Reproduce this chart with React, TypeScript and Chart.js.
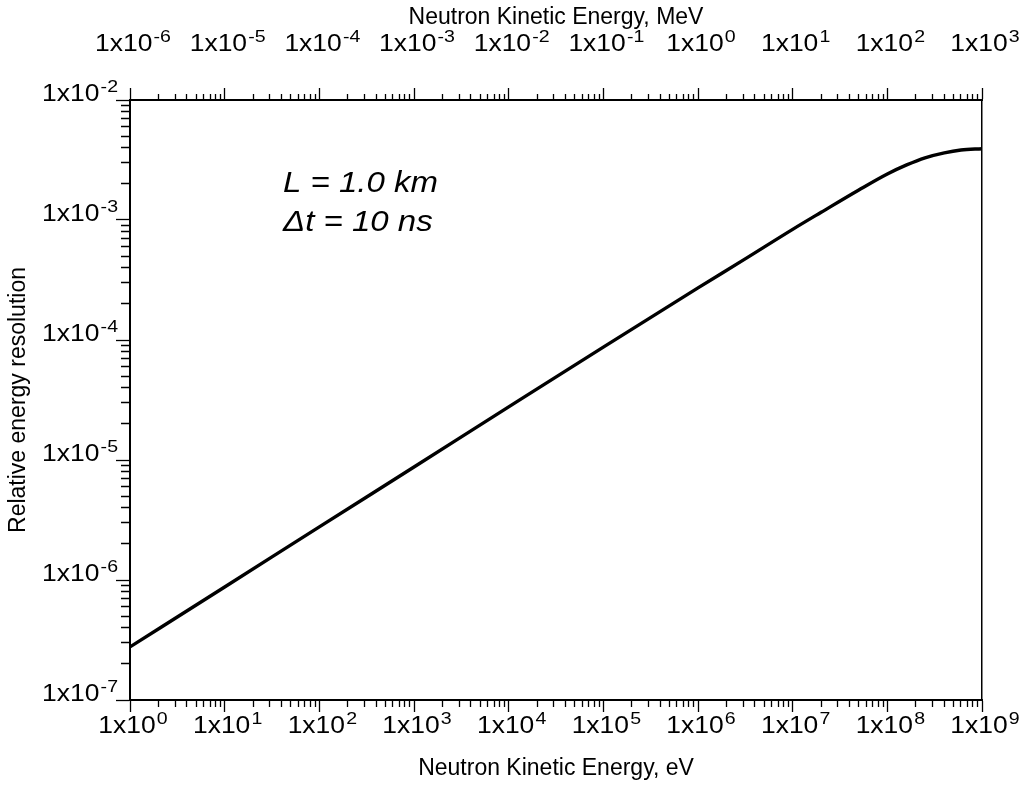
import React, { useEffect, useRef } from 'react';
import { Chart, registerables } from 'chart.js';

Chart.register(...registerables);

// ---- data ----
const energyEv = [1, 10, 100, 1e3, 1e4, 1e5, 1e6, 3e6, 1e7, 2e7, 5e7, 1e8, 1.6e8, 2.5e8, 4e8, 6e8, 1e9];
const resolution = [
  2.77e-7, 8.75e-7, 2.77e-6, 8.75e-6, 2.77e-5, 8.73e-5, 2.72e-4, 4.63e-4, 8.36e-4,
  1.16e-3, 1.78e-3, 2.42e-3, 2.88e-3, 3.3e-3, 3.63e-3, 3.83e-3, 3.93e-3,
];

const bottomTickValues = [1, 10, 100, 1e3, 1e4, 1e5, 1e6, 1e7, 1e8, 1e9];
const bottomTickLabels = ['1x10^0', '1x10^1', '1x10^2', '1x10^3', '1x10^4', '1x10^5', '1x10^6', '1x10^7', '1x10^8', '1x10^9'];
const topTickValues = [1e-6, 1e-5, 1e-4, 1e-3, 1e-2, 1e-1, 1, 10, 100, 1000];
const topTickLabels = ['1x10^-6', '1x10^-5', '1x10^-4', '1x10^-3', '1x10^-2', '1x10^-1', '1x10^0', '1x10^1', '1x10^2', '1x10^3'];
const leftTickValues = [1e-7, 1e-6, 1e-5, 1e-4, 1e-3, 1e-2];
const leftTickLabels = ['1x10^-7', '1x10^-6', '1x10^-5', '1x10^-4', '1x10^-3', '1x10^-2'];

const bottomTitle = 'Neutron Kinetic Energy, eV';
const topTitle = 'Neutron Kinetic Energy, MeV';
const leftTitle = 'Relative energy resolution';
const noteLines = ['L = 1.0 km', '\u0394t = 10 ns'];

const FONT = '"Liberation Sans", Arial, Helvetica, sans-serif';
const TICK_FONT = 23;
const EXP_FONT = 17;
const TICK_SX = 1.15;

function isMajorValue(v: number) {
  const l = Math.log10(v);
  return Math.abs(l - Math.round(l)) < 1e-6;
}

function withMinors(majors: number[]) {
  const out: { value: number; major: boolean }[] = [];
  majors.forEach((v, i) => {
    out.push({ value: v, major: true });
    if (i < majors.length - 1) {
      for (let k = 2; k <= 9; k++) out.push({ value: v * k, major: false });
    }
  });
  return out;
}

function dashFor(fromAxis: boolean, total: number, minor: number) {
  return (c: any) => {
    const t = c.tick;
    if (!t || isMajorValue(t.value)) return [];
    return fromAxis ? [minor, 200] : [0, total - minor, minor, 200];
  };
}

function drawSupLabel(ctx: CanvasRenderingContext2D, text: string, x: number, y: number, align: 'center' | 'right') {
  const [base, exp] = text.split('^');
  ctx.font = `${TICK_FONT}px ${FONT}`;
  const wb = ctx.measureText(base).width;
  ctx.font = `${EXP_FONT}px ${FONT}`;
  const we = ctx.measureText(exp).width;
  const gap = 1;
  const total = (wb + gap + we) * TICK_SX;
  const left = align === 'center' ? x - total / 2 : x - total;
  ctx.save();
  ctx.translate(left, y);
  ctx.scale(TICK_SX, 1);
  ctx.fillStyle = '#000';
  ctx.textAlign = 'left';
  ctx.textBaseline = 'alphabetic';
  ctx.font = `${TICK_FONT}px ${FONT}`;
  ctx.fillText(base, 0, 0);
  ctx.font = `${EXP_FONT}px ${FONT}`;
  ctx.fillText(exp, wb + gap, -9);
  ctx.restore();
}

const labelsPlugin = {
  id: 'supLabels',
  afterDraw(chart: any) {
    const ctx = chart.ctx as CanvasRenderingContext2D;
    const { x, x2, y } = chart.scales;
    bottomTickValues.forEach((v, i) => {
      drawSupLabel(ctx, bottomTickLabels[i], x.getPixelForValue(v) + 3, 733, 'center');
    });
    topTickValues.forEach((v, i) => {
      drawSupLabel(ctx, topTickLabels[i], x2.getPixelForValue(v) + 3, 51, 'center');
    });
    leftTickValues.forEach((v, i) => {
      drawSupLabel(ctx, leftTickLabels[i], 118, y.getPixelForValue(v) + 1, 'right');
    });
    // annotation
    ctx.save();
    ctx.fillStyle = '#000';
    ctx.textAlign = 'left';
    ctx.textBaseline = 'alphabetic';
    ctx.font = `italic 30px ${FONT}`;
    noteLines.forEach((line, i) => {
      ctx.save();
      ctx.translate(283, 192 + i * 39);
      ctx.scale(1.1, 1);
      ctx.fillText(line, 0, 0);
      ctx.restore();
    });
    ctx.restore();
  },
};

export default function App() {
  const ref = useRef<HTMLCanvasElement>(null);
  useEffect(() => {
    document.body.style.margin = '0';
    const titleFont = { family: FONT, size: 23 };
    const chart = new Chart(ref.current as HTMLCanvasElement, {
      type: 'line',
      data: {
        datasets: [
          {
            data: energyEv.map((e, i) => ({ x: e, y: resolution[i] })),
            borderColor: '#000',
            borderWidth: 3.4,
            pointRadius: 0,
            fill: false,
            cubicInterpolationMode: 'monotone',
            xAxisID: 'x',
            yAxisID: 'y',
          },
        ],
      },
      options: {
        responsive: false,
        maintainAspectRatio: false,
        animation: false,
        layout: { padding: 0 },
        plugins: { legend: { display: false }, tooltip: { enabled: false } },
        scales: {
          x: {
            type: 'logarithmic',
            position: 'bottom',
            min: 1,
            max: 1e9,
            afterBuildTicks: (s: any) => { s.ticks = withMinors(bottomTickValues); },
            afterFit: (s: any) => { s.height = 85; },
            ticks: { display: false, autoSkip: false },
            grid: {
              drawOnChartArea: false,
              drawTicks: true,
              tickLength: 12,
              color: '#000',
              tickWidth: 1.3,
              tickBorderDash: dashFor(true, 11, 6),
            },
            border: { display: true, color: '#000', width: 2 },
            title: { display: true, text: bottomTitle, color: '#000', font: titleFont, padding: { top: 0, bottom: 3 } },
          },
          x2: {
            type: 'logarithmic',
            position: 'top',
            min: 1e-6,
            max: 1e3,
            afterBuildTicks: (s: any) => { s.ticks = withMinors(topTickValues); },
            afterFit: (s: any) => { s.height = 100; },
            ticks: { display: false, autoSkip: false },
            grid: {
              drawOnChartArea: false,
              drawTicks: true,
              tickLength: 12,
              color: '#000',
              tickWidth: 1.3,
              tickBorderDash: dashFor(false, 11, 5),
            },
            border: { display: true, color: '#000', width: 2 },
            title: { display: true, text: topTitle, color: '#000', font: titleFont, padding: { top: 4, bottom: 0 } },
          },
          y: {
            type: 'logarithmic',
            position: 'left',
            min: 1e-7,
            max: 1e-2,
            afterBuildTicks: (s: any) => { s.ticks = withMinors(leftTickValues); },
            afterFit: (s: any) => { s.width = 130; },
            ticks: { display: false, autoSkip: false },
            grid: {
              drawOnChartArea: false,
              drawTicks: true,
              tickLength: 14,
              color: '#000',
              tickWidth: 1.3,
              tickBorderDash: dashFor(false, 13, 8),
            },
            border: { display: true, color: '#000', width: 2 },
            title: { display: true, text: leftTitle, color: '#000', font: titleFont, padding: { top: 5, bottom: 0 } },
          },
          y2: {
            type: 'linear',
            position: 'right',
            min: 0,
            max: 1,
            afterFit: (s: any) => { s.width = 43; },
            ticks: { display: false },
            grid: { drawOnChartArea: false, drawTicks: false },
            border: { display: true, color: '#000', width: 1.5 },
          },
        },
      } as any,
      plugins: [labelsPlugin],
    });
    return () => chart.destroy();
  }, []);
  return (
    <canvas
      ref={ref}
      width={1025}
      height={785}
      style={{ display: 'block', width: 1025, height: 785 }}
    />
  );
}
